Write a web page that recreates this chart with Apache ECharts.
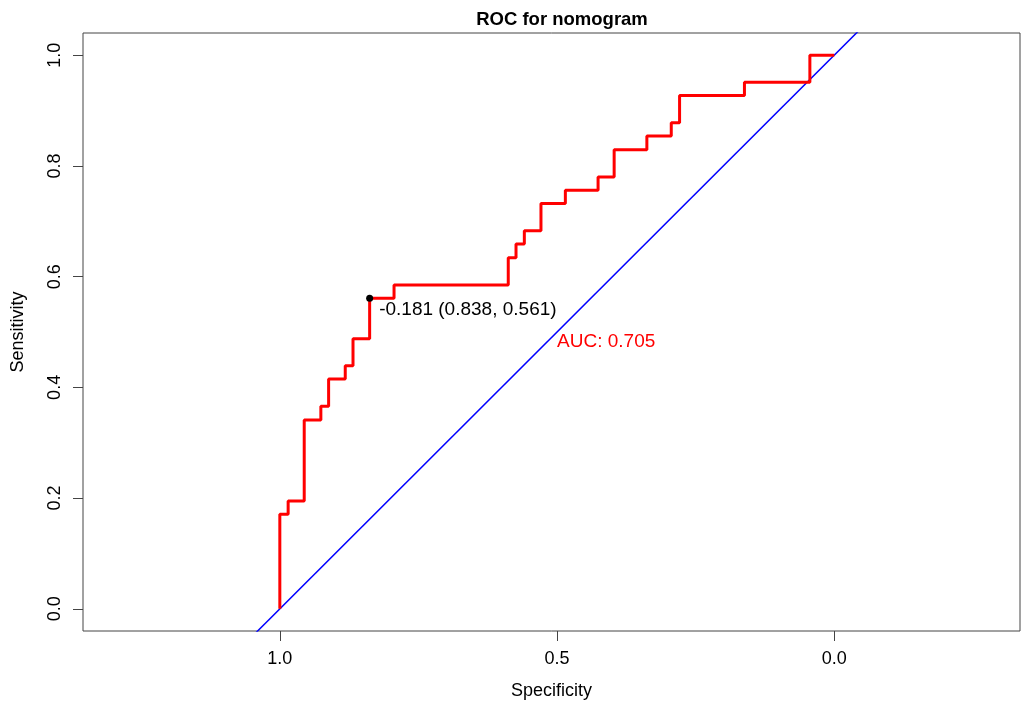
<!DOCTYPE html>
<html>
<head>
<meta charset="utf-8">
<title>ROC for nomogram</title>
<script src="https://cdn.jsdelivr.net/npm/echarts@6/dist/echarts.min.js"></script>
<style>
  html, body { margin: 0; padding: 0; background: #fff; }
  #chart { width: 1022px; height: 713px; }
</style>
</head>
<body>
<div id="chart"></div>
<script>
// ROC curve corners (specificity, sensitivity)
var specificity = [1, 1, 0.985, 0.956, 0.926, 0.912, 0.882, 0.868, 0.838, 0.794,
    0.588, 0.574, 0.559, 0.529, 0.485, 0.426, 0.397, 0.338, 0.294, 0.279,
    0.162, 0.044, 0];
var sensitivity = [0, 0.171, 0.195, 0.341, 0.366, 0.415, 0.439, 0.488, 0.561, 0.585,
    0.634, 0.659, 0.683, 0.732, 0.756, 0.780, 0.829, 0.854, 0.878, 0.927,
    0.951, 1, 1];

// chance diagonal, sens = 1 - spec
var diagSpec = [1.5, -0.5];

// best threshold and AUC
var bestThreshold = -0.181;
var bestPoint = [0.838, 0.561];
var aucValue = 0.705;
var aucAnchor = [0.5, 0.5];

var xTicks = [0, 0.5, 1];
var yTicks = [0, 0.2, 0.4, 0.6, 0.8, 1];

var FONT = "'Liberation Sans', Arial, sans-serif";

var myChart = echarts.init(document.getElementById('chart'));

var curve = specificity.map(function (s, i) { return [s, sensitivity[i]]; });
var diag = diagSpec.map(function (s) { return [s, 1 - s]; });

var option = {
    backgroundColor: '#fff',
    animation: false,
    textStyle: { fontFamily: FONT },
    title: {
        text: 'ROC for nomogram',
        left: 557,
        top: 5,
        textAlign: 'center',
        textStyle: { fontFamily: FONT, fontSize: 18.5, fontWeight: 'bold', color: '#000' }
    },
    grid: {
        left: 83,
        right: 2,
        top: 33,
        bottom: 82,
        show: true,
        borderColor: '#444',
        borderWidth: 1
    },
    xAxis: {
        type: 'value',
        inverse: true,
        min: -0.335,
        max: 1.355,
        name: 'Specificity',
        nameLocation: 'middle',
        nameGap: 51,
        nameTextStyle: { fontFamily: FONT, fontSize: 18, color: '#000' },
        axisLine: { show: false, onZero: false },
        splitLine: { show: false },
        axisTick: { show: true, length: 10, customValues: xTicks, lineStyle: { color: '#444' } },
        axisLabel: {
            customValues: xTicks,
            margin: 19,
            fontFamily: FONT,
            fontSize: 18,
            color: '#000',
            formatter: function (v) { return v.toFixed(1); }
        }
    },
    yAxis: {
        type: 'value',
        min: -0.04,
        max: 1.04,
        name: 'Sensitivity',
        nameLocation: 'middle',
        nameGap: 56,
        nameTextStyle: { fontFamily: FONT, fontSize: 18, color: '#000' },
        axisLine: { show: false, onZero: false },
        splitLine: { show: false },
        axisTick: { show: true, length: 10, customValues: yTicks, lineStyle: { color: '#444' } },
        axisLabel: {
            customValues: yTicks,
            rotate: 90,
            margin: 19,
            fontFamily: FONT,
            fontSize: 18,
            color: '#000',
            formatter: function (v) { return v.toFixed(1); }
        }
    },
    series: [
        {
            name: 'chance',
            type: 'line',
            data: diag,
            symbol: 'none',
            clip: true,
            lineStyle: { color: '#0000FF', width: 1.5 },
            z: 2
        },
        {
            name: 'ROC',
            type: 'line',
            data: curve,
            step: 'end',
            symbol: 'none',
            lineStyle: { color: '#FF0000', width: 3 },
            z: 3
        },
        {
            name: 'threshold',
            type: 'scatter',
            data: [bestPoint],
            symbol: 'circle',
            symbolSize: 7,
            itemStyle: { color: '#000', opacity: 1 },
            label: {
                show: true,
                position: 'right',
                distance: 5,
                offset: [1, 12],
                fontFamily: FONT,
                fontSize: 19,
                color: '#000',
                formatter: function (p) {
                    return bestThreshold.toFixed(3) + ' (' + p.value[0].toFixed(3) + ', ' + p.value[1].toFixed(3) + ')';
                }
            },
            z: 4
        },
        {
            name: 'auc',
            type: 'scatter',
            data: [aucAnchor],
            symbolSize: 0,
            silent: true,
            itemStyle: { opacity: 1 },
            label: {
                show: true,
                position: [0, 0],
                align: 'left',
                verticalAlign: 'top',
                fontFamily: FONT,
                fontSize: 19,
                color: '#FF0000',
                formatter: function () { return 'AUC: ' + aucValue.toFixed(3); }
            },
            z: 4
        }
    ]
};

myChart.setOption(option);
</script>
</body>
</html>
